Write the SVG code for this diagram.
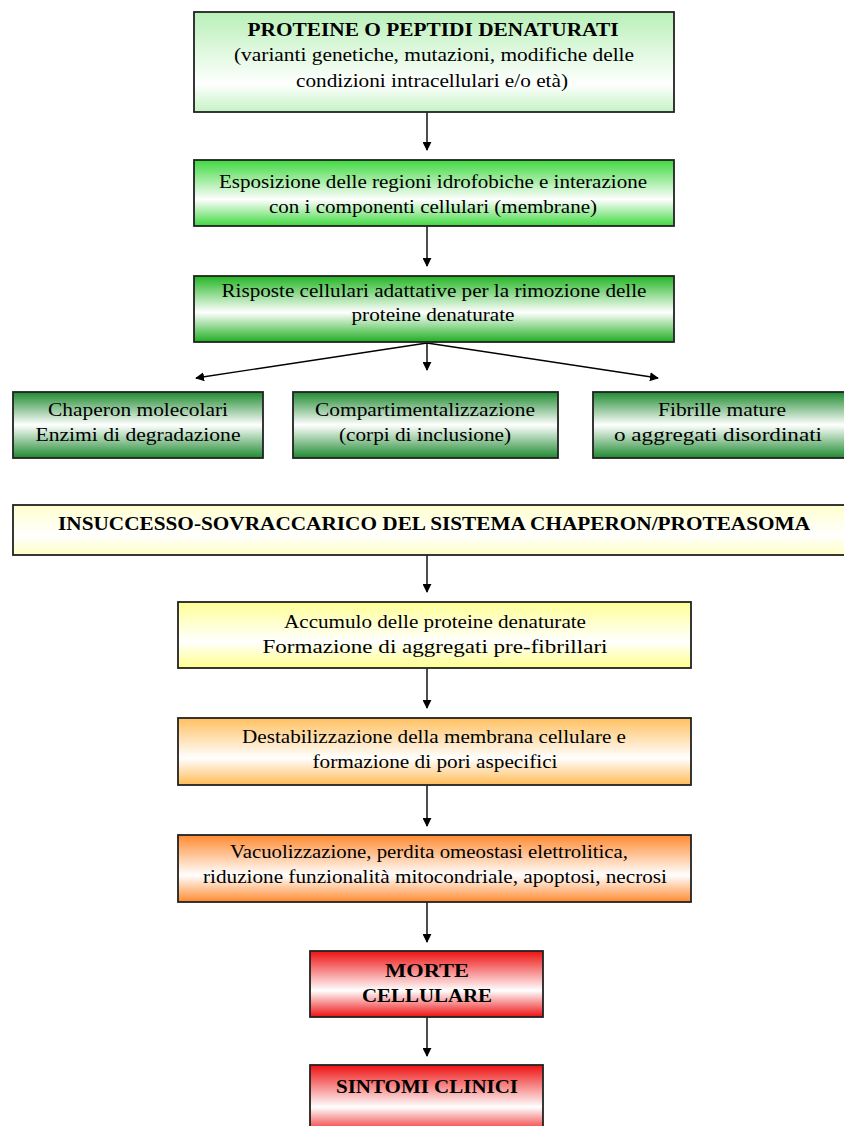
<svg xmlns="http://www.w3.org/2000/svg" width="844" height="1126" viewBox="0 0 844 1126">
<style>
.box{stroke:#222;stroke-width:1.8}
text{font-family:"Liberation Serif","Times New Roman",serif;font-size:18px;fill:#000;text-anchor:middle}
.b{font-weight:bold;font-size:19px}
.conn{stroke:#000;stroke-width:1.4;fill:none;marker-end:url(#ah)}
</style>
<defs>
<marker id="ah" viewBox="0 0 10 10" refX="9" refY="5" markerWidth="9" markerHeight="9" markerUnits="userSpaceOnUse" orient="auto">
<path d="M0,0 L10,5 L0,10 z" fill="#000"/>
</marker>
<linearGradient id="g1" x1="0" y1="0" x2="0" y2="1"><stop offset="0" stop-color="#b8f0b8"/><stop offset="0.72" stop-color="#ffffff"/><stop offset="1" stop-color="#c4f3c4"/></linearGradient>
<linearGradient id="g2" x1="0" y1="0" x2="0" y2="1"><stop offset="0" stop-color="#3fd83f"/><stop offset="0.6" stop-color="#ffffff"/><stop offset="1" stop-color="#3fd83f"/></linearGradient>
<linearGradient id="g3" x1="0" y1="0" x2="0" y2="1"><stop offset="0" stop-color="#22b522"/><stop offset="0.55" stop-color="#ffffff"/><stop offset="1" stop-color="#1fae1f"/></linearGradient>
<linearGradient id="g4" x1="0" y1="0" x2="0" y2="1"><stop offset="0" stop-color="#1f8a30"/><stop offset="0.5" stop-color="#ffffff"/><stop offset="1" stop-color="#1f8a30"/></linearGradient>
<linearGradient id="y1" x1="0" y1="0" x2="0" y2="1"><stop offset="0" stop-color="#ffffcc"/><stop offset="0.6" stop-color="#ffffff"/><stop offset="1" stop-color="#ffffc4"/></linearGradient>
<linearGradient id="y2" x1="0" y1="0" x2="0" y2="1"><stop offset="0" stop-color="#ffff96"/><stop offset="0.6" stop-color="#ffffff"/><stop offset="1" stop-color="#ffff8c"/></linearGradient>
<linearGradient id="o1" x1="0" y1="0" x2="0" y2="1"><stop offset="0" stop-color="#ffc060"/><stop offset="0.6" stop-color="#ffffff"/><stop offset="1" stop-color="#ffbb55"/></linearGradient>
<linearGradient id="o2" x1="0" y1="0" x2="0" y2="1"><stop offset="0" stop-color="#ff8a30"/><stop offset="0.6" stop-color="#ffffff"/><stop offset="1" stop-color="#ff8a30"/></linearGradient>
<linearGradient id="r1" x1="0" y1="0" x2="0" y2="1"><stop offset="0" stop-color="#ee1111"/><stop offset="0.6" stop-color="#ffffff"/><stop offset="1" stop-color="#ee1111"/></linearGradient>
</defs>
<rect width="844" height="1126" fill="#ffffff"/>

<g id="connectors">
<line class="conn" x1="427" y1="112" x2="427" y2="150"/>
<line class="conn" x1="427" y1="226" x2="427" y2="266"/>
<line class="conn" x1="427" y1="342" x2="427" y2="370"/>
<line class="conn" x1="427" y1="343" x2="196" y2="378"/>
<line class="conn" x1="427" y1="343" x2="658" y2="378"/>
<line class="conn" x1="427" y1="555" x2="427" y2="592"/>
<line class="conn" x1="427" y1="668" x2="427" y2="708"/>
<line class="conn" x1="427" y1="785" x2="427" y2="826"/>
<line class="conn" x1="427" y1="902" x2="427" y2="942"/>
<line class="conn" x1="427" y1="1017" x2="427" y2="1056"/>
</g>

<g id="n1">
<rect class="box" x="194" y="12" width="480" height="100" fill="url(#g1)"/>
<text class="b" x="433" y="36" textLength="371" lengthAdjust="spacingAndGlyphs">PROTEINE O PEPTIDI DENATURATI</text>
<text x="434" y="61" textLength="400" lengthAdjust="spacingAndGlyphs">(varianti genetiche, mutazioni, modifiche delle</text>
<text x="432" y="87" textLength="272" lengthAdjust="spacingAndGlyphs">condizioni intracellulari e/o età)</text>
</g>

<g id="n2">
<rect class="box" x="194" y="160" width="480" height="66" fill="url(#g2)"/>
<text x="433" y="188" textLength="428" lengthAdjust="spacingAndGlyphs">Esposizione delle regioni idrofobiche e interazione</text>
<text x="433" y="213" textLength="328" lengthAdjust="spacingAndGlyphs">con i componenti cellulari (membrane)</text>
</g>

<g id="n3">
<rect class="box" x="194" y="276" width="480" height="66" fill="url(#g3)"/>
<text x="434" y="297" textLength="425" lengthAdjust="spacingAndGlyphs">Risposte cellulari adattative per la rimozione delle</text>
<text x="433" y="321" textLength="163" lengthAdjust="spacingAndGlyphs">proteine denaturate</text>
</g>

<g id="n4">
<rect class="box" x="13" y="392" width="250" height="66" fill="url(#g4)"/>
<text x="138" y="416" textLength="180" lengthAdjust="spacingAndGlyphs">Chaperon molecolari</text>
<text x="138" y="441" textLength="205" lengthAdjust="spacingAndGlyphs">Enzimi di degradazione</text>
</g>

<g id="n5">
<rect class="box" x="293" y="392" width="265" height="66" fill="url(#g4)"/>
<text x="425" y="416" textLength="220" lengthAdjust="spacingAndGlyphs">Compartimentalizzazione</text>
<text x="425" y="441" textLength="172" lengthAdjust="spacingAndGlyphs">(corpi di inclusione)</text>
</g>

<g id="n6">
<rect class="box" x="593" y="392" width="260" height="66" fill="url(#g4)"/>
<text x="722" y="416" textLength="128" lengthAdjust="spacingAndGlyphs">Fibrille mature</text>
<text x="718" y="441" textLength="208" lengthAdjust="spacingAndGlyphs">o aggregati disordinati</text>
</g>

<g id="n7">
<rect class="box" x="13" y="505" width="840" height="50" fill="url(#y1)"/>
<text class="b" x="434" y="530" textLength="752" lengthAdjust="spacingAndGlyphs">INSUCCESSO-SOVRACCARICO DEL SISTEMA CHAPERON/PROTEASOMA</text>
</g>

<g id="n8">
<rect class="box" x="178" y="602" width="513" height="66" fill="url(#y2)"/>
<text x="435" y="628" textLength="302" lengthAdjust="spacingAndGlyphs">Accumulo delle proteine denaturate</text>
<text x="435" y="653" textLength="345" lengthAdjust="spacingAndGlyphs">Formazione di aggregati pre-fibrillari</text>
</g>

<g id="n9">
<rect class="box" x="178" y="718" width="513" height="67" fill="url(#o1)"/>
<text x="434" y="743" textLength="384" lengthAdjust="spacingAndGlyphs">Destabilizzazione della membrana cellulare e</text>
<text x="435" y="768" textLength="245" lengthAdjust="spacingAndGlyphs">formazione di pori aspecifici</text>
</g>

<g id="n10">
<rect class="box" x="178" y="835" width="513" height="67" fill="url(#o2)"/>
<text x="429" y="858" textLength="398" lengthAdjust="spacingAndGlyphs">Vacuolizzazione, perdita omeostasi elettrolitica,</text>
<text x="435" y="883" textLength="464" lengthAdjust="spacingAndGlyphs">riduzione funzionalità mitocondriale, apoptosi, necrosi</text>
</g>

<g id="n11">
<rect class="box" x="310" y="951" width="233" height="66" fill="url(#r1)"/>
<text class="b" x="427" y="977" textLength="84" lengthAdjust="spacingAndGlyphs">MORTE</text>
<text class="b" x="427" y="1002" textLength="130" lengthAdjust="spacingAndGlyphs">CELLULARE</text>
</g>

<g id="n12">
<rect class="box" x="310" y="1065" width="233" height="70" fill="url(#r1)"/>
<text class="b" x="427" y="1093" textLength="182" lengthAdjust="spacingAndGlyphs">SINTOMI CLINICI</text>
</g>
</svg>
